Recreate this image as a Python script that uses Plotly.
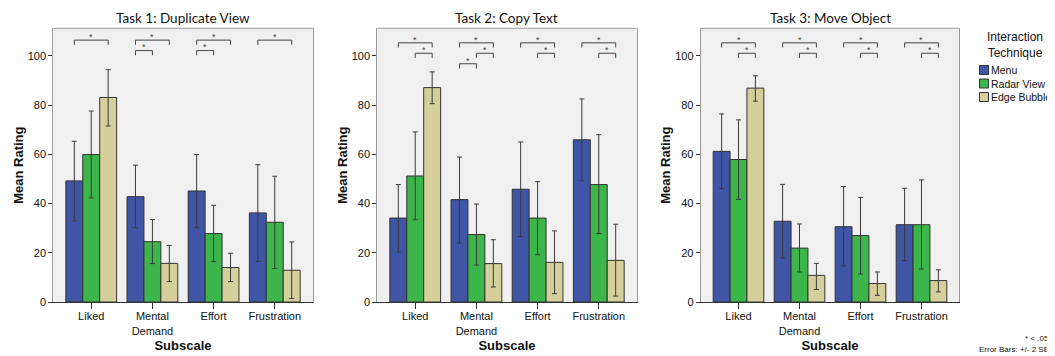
import plotly.graph_objects as go

# ---------------- data ----------------
tasks = ["Task 1: Duplicate View", "Task 2: Copy Text", "Task 3: Move Object"]
subscales = ["Liked", "Mental<br>Demand", "Effort", "Frustration"]
techniques = ["Menu", "Radar View", "Edge Bubbles"]

# Task 1 means and error-bar limits (+/- 2 SE)
task1_menu = [49.2, 42.8, 45.1, 36.2]
task1_radar = [59.9, 24.5, 27.8, 32.4]
task1_edge = [83.1, 15.7, 14.0, 12.9]
task1_menu_hi = [65.3, 55.6, 59.9, 55.8]
task1_menu_lo = [32.9, 30.2, 30.2, 16.5]
task1_radar_hi = [77.6, 33.5, 39.3, 51.1]
task1_radar_lo = [42.3, 15.6, 16.4, 13.6]
task1_edge_hi = [94.4, 23.0, 19.8, 24.4]
task1_edge_lo = [71.5, 8.3, 8.3, 1.4]

# Task 2
task2_menu = [34.1, 41.6, 45.8, 65.9]
task2_radar = [51.2, 27.4, 34.1, 47.7]
task2_edge = [87.1, 15.6, 16.1, 16.9]
task2_menu_hi = [47.7, 58.9, 65.0, 82.5]
task2_menu_lo = [20.3, 24.0, 26.6, 49.2]
task2_radar_hi = [69.1, 39.8, 48.9, 68.0]
task2_radar_lo = [33.4, 15.0, 19.2, 27.8]
task2_edge_hi = [93.5, 25.3, 28.9, 31.6]
task2_edge_lo = [80.6, 6.1, 3.4, 2.4]

# Task 3
task3_menu = [61.2, 32.8, 30.6, 31.4]
task3_radar = [57.9, 21.9, 27.0, 31.4]
task3_edge = [86.9, 10.8, 7.5, 8.7]
task3_menu_hi = [76.4, 47.8, 46.9, 46.2]
task3_menu_lo = [46.1, 17.9, 14.6, 16.8]
task3_radar_hi = [74.0, 31.7, 42.5, 49.6]
task3_radar_lo = [41.7, 12.2, 11.4, 13.4]
task3_edge_hi = [91.9, 15.7, 12.2, 13.1]
task3_edge_lo = [81.6, 5.1, 2.7, 4.1]

# significant pairs: (subscale index, technique a, technique b, bracket level)
task1_sig = [(0, 0, 2, 0), (1, 0, 2, 0), (1, 0, 1, 1), (2, 0, 2, 0), (2, 0, 1, 1), (3, 0, 2, 0)]
task2_sig = [(0, 0, 2, 0), (0, 1, 2, 1), (1, 0, 2, 0), (1, 1, 2, 1), (1, 0, 1, 2),
             (2, 0, 2, 0), (2, 1, 2, 1), (3, 0, 2, 0), (3, 1, 2, 1)]
task3_sig = [(0, 0, 2, 0), (0, 1, 2, 1), (1, 0, 2, 0), (1, 1, 2, 1),
             (2, 0, 2, 0), (2, 1, 2, 1), (3, 0, 2, 0), (3, 1, 2, 1)]

y_ticks = [0, 20, 40, 60, 80, 100]

means = [[task1_menu, task1_radar, task1_edge],
         [task2_menu, task2_radar, task2_edge],
         [task3_menu, task3_radar, task3_edge]]
his = [[task1_menu_hi, task1_radar_hi, task1_edge_hi],
       [task2_menu_hi, task2_radar_hi, task2_edge_hi],
       [task3_menu_hi, task3_radar_hi, task3_edge_hi]]
los = [[task1_menu_lo, task1_radar_lo, task1_edge_lo],
       [task2_menu_lo, task2_radar_lo, task2_edge_lo],
       [task3_menu_lo, task3_radar_lo, task3_edge_lo]]
sigs = [task1_sig, task2_sig, task3_sig]

# ---------------- style / layout ----------------
OFF = 8                      # page body margin offset
W, H = 1055 - OFF, 356 - OFF


def fx(p):
    return (p - OFF) / W


def fy(p):
    return 1 - (p - OFF) / H


colors = ["#3f55a5", "#3cb54b", "#d5cf9b"]
panels_px = [(53.3, 312.7), (377.3, 636.7), (700.7, 959.3)]
top_px, bottom_px = 28.3, 302.0
bargap = 0.17
bar_w = (1 - bargap) / 3
bracket_top = [106.4, 105.3, 105.3]
bracket_step = 4.25
bracket_drop = 1.9

ARIAL = "Liberation Sans, Arial, sans-serif"
TICKFONT = dict(family=ARIAL, size=11, color="#111")
TITLEFONT = dict(family=ARIAL, size=13, color="#111", weight="bold")

fig = go.Figure()
shapes = []
annotations = []

for t in range(3):
    sfx = "" if t == 0 else str(t + 1)
    for k in range(3):
        m = means[t][k]
        fig.add_trace(go.Bar(
            x=subscales, y=m, name=techniques[k],
            marker=dict(color=colors[k], line=dict(color="#333333", width=1)),
            error_y=dict(type="data", symmetric=False,
                         array=[h - v for h, v in zip(his[t][k], m)],
                         arrayminus=[v - l for l, v in zip(los[t][k], m)],
                         color="#3a3a3a", thickness=1, width=2.5),
            xaxis="x" + sfx, yaxis="y" + sfx,
            legendgroup=techniques[k], showlegend=False, offsetgroup=str(k),
        ))
    x0p, x1p = panels_px[t]
    fig.layout["xaxis" + sfx] = dict(
        domain=[fx(x0p), fx(x1p)], anchor="y" + sfx, type="category", range=[-0.62, 3.62],
        showline=True, linecolor="#333333", linewidth=1, mirror=False,
        ticks="outside", ticklen=6, tickcolor="#333333", tickfont=TICKFONT,
        ticklabelstandoff=-2,
        showgrid=False, zeroline=False, automargin=False,
        title=dict(text="Subscale", font=TITLEFONT, standoff=5),
    )
    fig.layout["yaxis" + sfx] = dict(
        domain=[fy(bottom_px), fy(top_px)], anchor="x" + sfx, range=[0, 111.2], tickvals=y_ticks,
        showline=True, linecolor="#9a9a9a", linewidth=1, mirror=True,
        ticks="outside", ticklen=4, tickcolor="#333333", tickfont=TICKFONT,
        showgrid=False, zeroline=False, automargin=False,
        title=dict(text="Mean Rating", font=TITLEFONT, standoff=1),
    )
    # top frame line
    shapes.append(dict(type="line", xref="x" + sfx + " domain", yref="y" + sfx + " domain",
                       x0=0, x1=1, y0=1, y1=1, line=dict(color="#9a9a9a", width=1)))
    # panel title
    annotations.append(dict(text=tasks[t], xref="paper", yref="paper",
                            x=fx((x0p + x1p) / 2), y=1, showarrow=False,
                            xanchor="center", yanchor="top",
                            font=dict(family="Lato, Open Sans, sans-serif", size=13.5, color="#111")))
    # significance brackets
    for (ci, a, b, lvl) in sigs[t]:
        xa = ci + (a - 1) * bar_w
        xb = ci + (b - 1) * bar_w
        yl = bracket_top[t] - lvl * bracket_step
        ln = dict(color="#444444", width=1)
        xr, yr = "x" + sfx, "y" + sfx
        shapes.append(dict(type="line", xref=xr, yref=yr, x0=xa, x1=xb, y0=yl, y1=yl, line=ln))
        shapes.append(dict(type="line", xref=xr, yref=yr, x0=xa, x1=xa, y0=yl, y1=yl - bracket_drop, line=ln))
        shapes.append(dict(type="line", xref=xr, yref=yr, x0=xb, x1=xb, y0=yl, y1=yl - bracket_drop, line=ln))
        annotations.append(dict(text="*", xref=xr, yref=yr, x=(xa + xb) / 2, y=yl + 1.3,
                                showarrow=False, xanchor="center", yanchor="middle",
                                font=dict(family=ARIAL, size=9, color="#444")))

# legend (title + swatches + labels)
annotations.append(dict(text="Interaction<br>Technique", xref="paper", yref="paper",
                        x=fx(1015), y=fy(45.5), showarrow=False, xanchor="center", yanchor="middle",
                        align="center", font=dict(family=ARIAL, size=12, color="#111")))
legend_rows_px = [70, 83.5, 97]
for k in range(3):
    yc = legend_rows_px[k]
    shapes.append(dict(type="rect", xref="paper", yref="paper",
                       x0=fx(979.5), x1=fx(988.5), y0=fy(yc + 4.5), y1=fy(yc - 4.5),
                       fillcolor=colors[k], line=dict(color="#333333", width=1)))
    annotations.append(dict(text=techniques[k], xref="paper", yref="paper",
                            x=fx(988.5), y=fy(yc), showarrow=False, xanchor="left", yanchor="middle",
                            font=dict(family=ARIAL, size=10.5, color="#111")))

annotations.append(dict(text="* < .05", xref="paper", yref="paper", x=fx(1051), y=fy(338),
                        showarrow=False, xanchor="right", yanchor="middle",
                        font=dict(family=ARIAL, size=8, color="#111")))
annotations.append(dict(text="Error Bars: +/- 2 SE", xref="paper", yref="paper", x=fx(1051), y=fy(349),
                        showarrow=False, xanchor="right", yanchor="middle",
                        font=dict(family=ARIAL, size=8, color="#111")))

fig.update_layout(
    width=W, height=H,
    margin=dict(l=0, r=0, t=0, b=0),
    paper_bgcolor="white", plot_bgcolor="#f0f0f0",
    barmode="group", bargap=bargap, bargroupgap=0,
    shapes=shapes, annotations=annotations,
    showlegend=False,
)

fig.write_html("out.html")
